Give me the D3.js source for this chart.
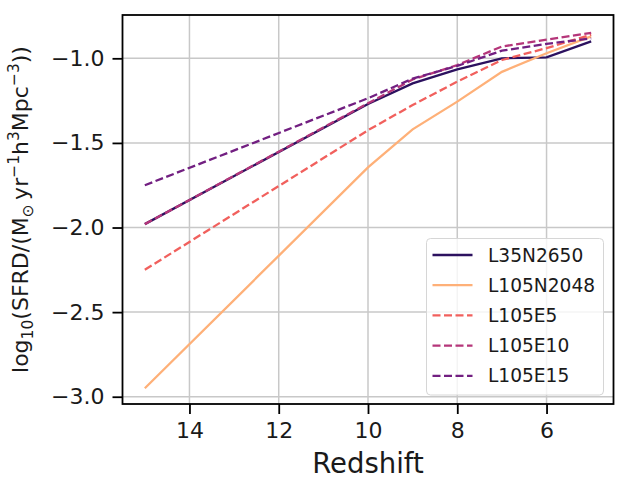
<!DOCTYPE html>
<html>
<head>
<meta charset="utf-8">
<script src="https://cdn.jsdelivr.net/npm/d3@7"></script>
<style>
  body { margin: 0; background: #fff; }
  svg { font-family: "DejaVu Sans", sans-serif; }
</style>
</head>
<body>
<div id="chart"></div>
<script>
// redshift sample points
var redshift = [15, 10, 9, 8, 7, 6, 5];

// log10 SFRD per run
var L35N2650  = [-1.98, -1.27, -1.148, -1.065, -1.0, -0.994, -0.90];
var L105N2048 = [-2.95, -1.645, -1.42, -1.256, -1.08, -0.97, -0.87];
var L105E5    = [-2.25, -1.425, -1.276, -1.138, -1.01, -0.94, -0.86];
var L105E10   = [-1.98, -1.266, -1.125, -1.04, -0.93, -0.89, -0.849];
var L105E15   = [-1.75, -1.236, -1.12, -1.045, -0.955, -0.915, -0.882];

var seriesNames = ['L35N2650', 'L105N2048', 'L105E5', 'L105E10', 'L105E15'];
var seriesValues = [L35N2650, L105N2048, L105E5, L105E10, L105E15];
var seriesColors = ['#2c115f', '#feb078', '#f1605d', '#b5367a', '#721f81'];
var seriesDashed = [false, false, true, true, true];

var xTicks = [14, 12, 10, 8, 6];
var yTicks = [-1.0, -1.5, -2.0, -2.5, -3.0];

var width = 625, height = 482;
var pL = 122.5, pR = 613.5, pT = 15, pB = 404;

var svg = d3.select('#chart').append('svg')
    .attr('width', width)
    .attr('height', height);

var x = d3.scaleLinear().domain([15.5, 4.5]).range([pL, pR]);
var y = d3.scaleLinear().domain([-3.043, -0.744]).range([pB, pT]);

// grid
var grid = svg.append('g');
grid.selectAll('line.gx').data(xTicks).enter().append('line')
    .attr('x1', function (d) { return x(d); })
    .attr('x2', function (d) { return x(d); })
    .attr('y1', pT).attr('y2', pB)
    .attr('stroke', '#c8c8c8').attr('stroke-width', 1.5);
grid.selectAll('line.gy').data(yTicks).enter().append('line')
    .attr('y1', function (d) { return y(d); })
    .attr('y2', function (d) { return y(d); })
    .attr('x1', pL).attr('x2', pR)
    .attr('stroke', '#c8c8c8').attr('stroke-width', 1.5);

// lines
var line = d3.line()
    .x(function (d, i) { return x(redshift[i]); })
    .y(function (d) { return y(d); });

seriesValues.forEach(function (vals, k) {
    svg.append('path')
        .attr('d', line(vals))
        .attr('fill', 'none')
        .attr('stroke', seriesColors[k])
        .attr('stroke-width', 2.3)
        .attr('stroke-dasharray', seriesDashed[k] ? '8,3.5' : null);
});

// axes
var fmt = function (d) { return d3.format('.1f')(d).replace('-', '\u2212'); };

var xAxis = svg.append('g')
    .attr('transform', 'translate(0,' + pB + ')')
    .call(d3.axisBottom(x).tickValues(xTicks).tickSize(10).tickPadding(8).tickFormat(d3.format('d')));
var yAxis = svg.append('g')
    .attr('transform', 'translate(' + pL + ',0)')
    .call(d3.axisLeft(y).tickValues(yTicks).tickSize(10).tickPadding(8).tickFormat(fmt));

[xAxis, yAxis].forEach(function (a) {
    a.select('.domain').remove();
    a.selectAll('line').attr('stroke', '#000').attr('stroke-width', 1.8);
    a.selectAll('text').attr('fill', '#1a1a1a').attr('font-size', 22)
        .attr('font-family', '"DejaVu Sans", sans-serif');
});

svg.append('rect')
    .attr('x', pL).attr('y', pT)
    .attr('width', pR - pL).attr('height', pB - pT)
    .attr('fill', 'none').attr('stroke', '#000').attr('stroke-width', 1.8);

// axis labels
svg.append('text')
    .attr('x', (pL + pR) / 2).attr('y', 473)
    .attr('text-anchor', 'middle')
    .attr('font-size', 27.5).attr('fill', '#1a1a1a')
    .text('Redshift');

var yl = svg.append('text')
    .attr('transform', 'translate(28,' + ((pT + pB) / 2) + ') rotate(-90)')
    .attr('text-anchor', 'middle')
    .attr('font-size', 22).attr('fill', '#1a1a1a');
yl.append('tspan').text('log');
yl.append('tspan').attr('font-size', 15.5).attr('dy', 5).text('10');
yl.append('tspan').attr('dy', -5).text('(SFRD/(M');
yl.append('tspan').attr('font-size', 15.5).attr('dy', 5).text('\u2299');
yl.append('tspan').attr('dy', -5).text('\u2009yr');
yl.append('tspan').attr('font-size', 15.5).attr('dy', -9).text('\u22121');
yl.append('tspan').attr('dy', 9).text('h');
yl.append('tspan').attr('font-size', 15.5).attr('dy', -9).text('3');
yl.append('tspan').attr('dy', 9).text('Mpc');
yl.append('tspan').attr('font-size', 15.5).attr('dy', -9).text('\u22123');
yl.append('tspan').attr('dy', 9).text('))');

// legend
var lg = svg.append('g');
lg.append('rect')
    .attr('x', 426.5).attr('y', 238.5)
    .attr('width', 177).attr('height', 156.5)
    .attr('rx', 4)
    .attr('fill', '#fff').attr('fill-opacity', 0.8)
    .attr('stroke', '#d6d6d6').attr('stroke-width', 1);

seriesNames.forEach(function (name, k) {
    var cy = 255 + k * 30.2;
    lg.append('line')
        .attr('x1', 432.5).attr('x2', 472.5)
        .attr('y1', cy).attr('y2', cy)
        .attr('stroke', seriesColors[k])
        .attr('stroke-width', 2.3)
        .attr('stroke-dasharray', seriesDashed[k] ? '8,3.5' : null);
    lg.append('text')
        .attr('x', 488).attr('y', cy)
        .attr('dy', '0.36em')
        .attr('font-size', 18.6).attr('fill', '#1a1a1a')
        .text(name);
});
</script>
</body>
</html>
